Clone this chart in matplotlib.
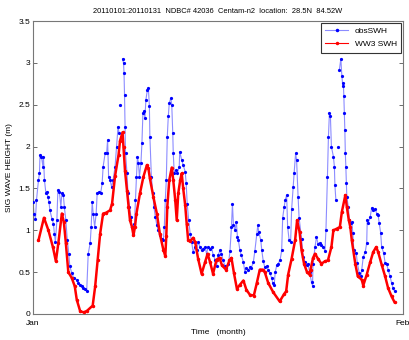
import numpy as np
import pandas as pd
import matplotlib
matplotlib.use("Agg")
import matplotlib.pyplot as plt
import matplotlib.dates as mdates

plt.rcParams['font.family'] = ['Liberation Sans', 'DejaVu Sans']

# observed SWH at buoy 42036 (hours since 2011-01-01 00:00, metres); nan = gap
obs_hr = [0, 2, 5, 7, 11, 13, 14, 17, 20, 21, 23, 26, 28, 30, 32, 34, 38, 41, 43, 45,
          48, 50, 53, 56, 58, 61, 63, 66, 69, 72, 74, 78, 82, 88, 91, 95, 98, 101, 105, 108,
          111, 115, 117, 119, 121, 124, 127, 129, 133, 136, 139, 141, 145, 148, 150, 152, 155, 158, 161, 165,
          168, 171, 173, 174, 175, 177, 180, 182, 183, 184, 185, 186, 189, 191, 194, 197, 199, 202, 204, 206,
          208, 210, 212, 214, 217, 219, 221, 223, 225, 227, 230, 232, 234, 235, 238, 241, 243, 246, 249, 252,
          255, 259, 262, 264, 266, 268, 270, 272, 274, 277, 279, 281, 282, 284, 287, 290, 294, 295, 299, 302,
          306, 308, 310, 313, 316, 319, 322, 326, 329, 332, 336, 339, 342, 346, 349, 352, 356, 359, 362, 366,
          369, 372, 376, 379, 382, 386, 389, 393, 396, 399, 401, 403, 406, 409, 411, 413, 416, 419, 423, 426,
          429, 433, 436, 439, 443, 446, 450, 452, 454, 458, 460, 463, 466, 470, 473, 476, 480, 482, 485, 487,
          490, 493, 497, 500, 502, 505, 507, 510, 512, 515, 518, 520, 523, 525, 528, 530, 533, 535, 540, 543,
          547, 550, 553, 556, 560, 562, 563, 567, 570, 573, 577, 580, 584, 587, 589, 592, 594, 596, 598, 600,
          604, 606, 607, 609, 611, 614, 615, 616, 619, 621, 623, 624, 625, 626, 627, 628, 629, 630, 631, 634,
          636, 639, 641, 643, 645, 650, 652, 656, 659, 661, 664, 668, 671, 672, 674, 678, 681, 684, 688, 691,
          694, 696, 699, 701, 705, 708, 711, 714, 718, 721, 724, 727]
obs_swh = [1.34, 1.2, 1.14, 1.36, 1.6, 1.68, 1.9, 1.88, 1.76, 1.88, 1.6, 1.44, 1.46, 1.4, 1.34, 1.24, 1.14, 1.08, 0.96, 0.86,
           1.12, 1.48, 1.46, 1.28, 1.44, 1.42, 1.28, 1.12, 0.88, 0.72, 0.57, 0.49, 0.43, 0.41, 0.37, 0.35, 0.33, 0.31, 0.3, 0.28,
           0.72, 0.85, 1.04, 1.34, 1.2, 1.04, 1.2, 1.44, 1.46, 1.44, 1.56, 1.76, 1.92, 1.92, 2.08, 1.64, 1.6, 1.52, 1.6, 1.76,
           2.0, 2.24, 2.16, np.nan, 2.5, np.nan, 3.05, 3.0, 2.88, 2.62, 2.24, 1.92, 1.68, 1.44, 1.28, 1.16, 1.04, 0.96, 1.08, 1.36,
           1.64, 1.88, 1.8, 1.64, 1.8, 2.04, 2.4, 2.42, 2.34, 2.56, 2.68, 2.7, 2.48, 2.12, 1.64, 1.44, 1.28, 1.16, 1.06, 1.0,
           0.94, 0.9, 0.88, 1.04, 1.36, 1.6, 2.12, 2.36, 2.52, 2.58, 2.5, 2.16, 1.92, 1.68, 1.72, 1.68, 1.76, 1.94, 1.84, 1.78,
           1.7, 1.56, 1.32, 1.12, 0.96, 0.86, 0.74, 0.8, 0.76, 0.86, 0.8, 0.76, 0.78, 0.8, 0.72, 0.8, 0.78, 0.8, 0.71, 0.65,
           0.57, 0.7, 0.76, 0.72, 0.65, 0.57, 0.55, 0.6, 0.75, 1.04, 1.32, 1.06, 1.0, 1.1, 0.92, 0.88, 0.76, 0.7, 0.62, 0.5,
           0.55, 0.52, 0.56, 0.55, 0.62, 0.75, 0.95, 1.06, 0.98, 0.88, 0.76, 0.63, 0.56, 0.57, 0.53, 0.49, 0.43, 0.37, 0.35, 0.5,
           0.58, 0.6, 0.65, 0.76, 1.15, 1.28, 1.36, 1.42, 1.04, 0.88, 0.86, 1.25, 1.52, 1.68, 1.92, 1.84, 1.4, 1.15, 0.9, 0.68,
           0.62, 0.58, 0.6, 0.5, 0.38, 0.34, 0.6, 0.8, 0.92, 0.84, 0.85, 0.82, 0.8, 0.75, 1.0, 1.64, 2.12, 2.4, 2.36, 2.0,
           1.88, 1.76, 1.54, 1.36, np.nan, 2.0, np.nan, 2.92, 3.05, 2.84, 2.72, 2.76, 2.6, 2.4, 2.2, 1.92, 1.76, 1.56, 1.4, 1.28,
           1.12, 1.09, 1.1, 0.97, 0.76, 0.73, 0.61, 0.49, 0.45, 0.53, 0.68, 0.74, 0.85, 1.12, 1.09, 1.16, 1.27, 1.24, 1.26, 1.2,
           1.18, 1.09, 0.97, 0.8, 0.73, 0.61, 0.6, 0.53, 0.45, 0.37, 0.31, 0.27]

# WW3 model SWH at the buoy location
ww3_hr = [11, 22, 31, 40, 46, 51, 58, 62, 66, 71, 78, 84, 88, 95, 103, 109, 120, 125, 130, 135,
          141, 147, 155, 159, 165, 172, 175, 180, 182, 185, 189, 192, 195, 199, 202, 205, 208, 215, 222, 229,
          232, 235, 242, 249, 255, 262, 266, 268, 270, 274, 279, 282, 286, 289, 292, 296, 299, 302, 306, 309,
          312, 316, 322, 326, 332, 339, 346, 351, 356, 362, 369, 375, 380, 388, 395, 399, 404, 410, 416, 423,
          429, 436, 444, 450, 456, 462, 466, 473, 483, 496, 505, 509, 513, 520, 527, 531, 536, 540, 545, 551,
          556, 558, 563, 567, 573, 580, 587, 593, 600, 604, 611, 617, 621, 628, 631, 635, 638, 641, 648, 653,
          661, 664, 671, 678, 684, 690, 694, 701, 708, 714, 721, 727]
ww3_swh = [0.88, 1.15, 1.0, 0.8, 0.63, 0.85, 1.2, 1.1, 0.85, 0.5, 0.43, 0.33, 0.17, 0.03, 0.02, 0.04, 0.1, 0.33, 0.65, 0.96,
           1.2, 1.21, 1.24, 1.32, 1.65, 1.9, 2.07, 2.17, 1.99, 1.71, 1.47, 1.28, 1.12, 1.04, 0.94, 1.04, 1.2, 1.44, 1.64, 1.78,
           1.74, 1.62, 1.4, 1.2, 0.96, 0.77, 0.69, 0.93, 1.28, 1.6, 1.75, 1.6, 1.36, 1.12, 1.44, 1.6, 1.68, 1.5, 1.3, 1.08,
           0.88, 0.87, 0.91, 0.86, 0.66, 0.48, 0.62, 0.72, 0.62, 0.48, 0.65, 0.67, 0.58, 0.53, 0.64, 0.67, 0.49, 0.3, 0.35, 0.4,
           0.29, 0.23, 0.22, 0.37, 0.53, 0.53, 0.5, 0.37, 0.26, 0.15, 0.24, 0.27, 0.47, 0.66, 0.88, 1.12, 0.98, 0.76, 0.6, 0.5,
           0.47, 0.53, 0.67, 0.72, 0.66, 0.6, 0.63, 0.64, 0.8, 1.0, 1.02, 1.04, 1.22, 1.42, 1.28, 1.12, 1.04, 0.88, 0.6, 0.45,
           0.41, 0.34, 0.47, 0.62, 0.74, 0.8, 0.74, 0.59, 0.45, 0.31, 0.21, 0.14]

t0 = pd.Timestamp('2011-01-01')
obs_t = t0 + pd.to_timedelta(obs_hr, unit='h')
ww3_t = t0 + pd.to_timedelta(ww3_hr, unit='h')

fig = plt.figure(figsize=(4.1, 3.4), dpi=100)
ax = fig.add_axes([0.0805, 0.0765, 0.9025, 0.8615])

ax.plot(obs_t, obs_swh, '-', color=(0.55, 0.55, 1.0), lw=0.8, zorder=2)
ax.plot(obs_t, obs_swh, '.', color='blue', ms=2.6, zorder=3)
ax.plot(ww3_t, ww3_swh, '.-', color='red', lw=1.8, ms=3, zorder=4)

# legend proxies: thin lines with a marker in the middle
h_obs, = ax.plot([], [], '.-', color=(0.55, 0.55, 1.0), mfc='blue', mec='blue', ms=3, lw=0.8)
h_ww3, = ax.plot([], [], '.-', color='red', ms=3, lw=0.8)

ax.set_xlim(pd.Timestamp('2011-01-01'), pd.Timestamp('2011-02-01'))
ax.set_ylim(0, 3.5)
ax.xaxis.set_major_locator(mdates.MonthLocator())
ax.xaxis.set_major_formatter(mdates.DateFormatter('%b'))
ax.set_yticks(np.arange(0, 3.51, 0.5))
ax.set_yticklabels(['0', '0.5', '1', '1.5', '2', '2.5', '3', '3.5'])
ax.tick_params(direction='in', length=3, width=0.6, labelsize=6, right=True, top=True,
               color='#555555', pad=2)
ax.tick_params(axis='x', pad=4)
for s in ax.spines.values():
    s.set_color('#777777')
    s.set_linewidth(0.8)

ax.set_title('20110101:20110131  NDBC# 42036  Centam-n2  location:  28.5N  84.52W',
             fontsize=5.4, pad=6)
ax.set_xlabel('Time   (month)', fontsize=6, labelpad=2)
ax.set_ylabel('SIG WAVE HEIGHT (m)', fontsize=6, labelpad=4)

leg = ax.legend([h_obs, h_ww3], ['obsSWH', 'WW3 SWH'], loc='upper right', fontsize=6,
                numpoints=1, fancybox=False, framealpha=1, borderaxespad=0.2,
                handlelength=2.8, labelspacing=0.7, borderpad=0.5)
leg.get_frame().set_edgecolor('#333333')
leg.get_frame().set_linewidth(0.8)

fig.savefig('out.png', dpi=100)
